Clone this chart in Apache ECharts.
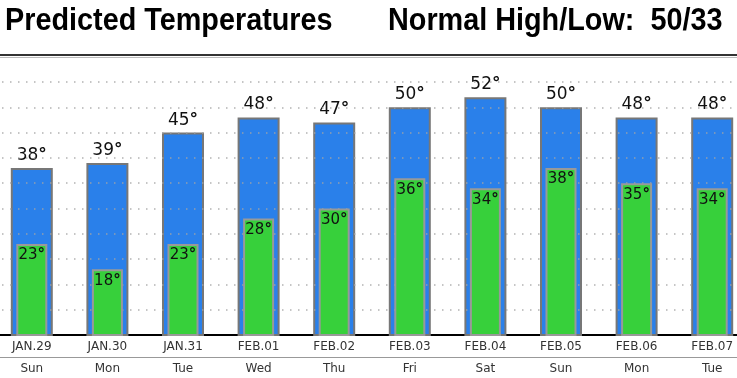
<!DOCTYPE html>
<html>
<head>
<meta charset="utf-8">
<script src="https://cdn.jsdelivr.net/npm/echarts@6/dist/echarts.min.js"></script>
<style>
  html, body { margin: 0; padding: 0; background: #fff; overflow: hidden; }
  body { width: 737px; height: 378px; position: relative; }
  /* the plot area in the original runs past both edges of the picture */
  #chart { position: absolute; left: -6px; top: 0; width: 756px; height: 378px; }
</style>
</head>
<body>
<div id="chart"></div>
<script>
const dates = ["JAN.29", "JAN.30", "JAN.31", "FEB.01", "FEB.02", "FEB.03", "FEB.04", "FEB.05", "FEB.06", "FEB.07"];
const days = ["Sun", "Mon", "Tue", "Wed", "Thu", "Fri", "Sat", "Sun", "Mon", "Tue"];
const highs = [38, 39, 45, 48, 47, 50, 52, 50, 48, 48];
const lows = [23, 18, 23, 28, 30, 36, 34, 38, 35, 34];
const normalHigh = 50;
const normalLow = 33;

const chart = echarts.init(document.getElementById("chart"));
const font = "DejaVu Sans";
const shift = 6; // chart div starts 6px left of the page

const headerStyle = { font: 'bold 32px "Liberation Sans"', fill: "#000", verticalAlign: "middle" };

chart.setOption({
  animation: false,
  backgroundColor: "#fff",
  graphic: [
    {
      type: "text",
      x: 5 + shift,
      y: 21.5,
      scaleX: 0.9,
      style: Object.assign({ text: "Predicted Temperatures" }, headerStyle),
    },
    {
      type: "text",
      x: 388 + shift,
      y: 21.5,
      scaleX: 0.9,
      style: Object.assign({ text: "Normal High/Low:  " + normalHigh + "/" + normalLow }, headerStyle),
    },
    { type: "line", shape: { x1: 0, y1: 55, x2: 756, y2: 55 }, style: { stroke: "#333", lineWidth: 2 } },
    { type: "line", shape: { x1: 0, y1: 57.5, x2: 756, y2: 57.5 }, style: { stroke: "#bbb", lineWidth: 1 } },
  ],
  grid: { left: 0, right: 0, top: 82, bottom: 43 },
  xAxis: [
    {
      type: "category",
      data: dates,
      axisLine: { lineStyle: { color: "#000", width: 2 } },
      axisTick: { alignWithLabel: true, length: 4, lineStyle: { color: "#333" } },
      axisLabel: { fontFamily: font, fontSize: 12, color: "#333", margin: 6 },
    },
    {
      type: "category",
      data: days,
      position: "bottom",
      offset: 22,
      axisLine: { lineStyle: { color: "#999", width: 1 } },
      axisTick: { alignWithLabel: true, length: 5, lineStyle: { color: "#333" } },
      axisLabel: { fontFamily: font, fontSize: 12, color: "#333", margin: 6 },
    },
  ],
  yAxis: {
    type: "value",
    min: 5,
    max: 55,
    interval: 5,
    z: 3,
    axisLine: { show: false },
    axisTick: { show: false },
    axisLabel: { show: false },
    splitLine: {
      showMinLine: false,
      lineStyle: { color: "rgba(165,165,165,0.85)", width: 1.5, type: [1.5, 6.5] },
    },
  },
  series: [
    {
      name: "High",
      type: "bar",
      xAxisIndex: 0,
      data: highs,
      barWidth: 42,
      z: 2,
      itemStyle: { color: "#2a80ea", borderColor: "#777", borderWidth: 2 },
      label: {
        show: true,
        position: "top",
        distance: 4,
        formatter: "{v|{c}}{d|°}",
        rich: {
          v: { fontFamily: font, fontSize: 17, color: "#111" },
          d: { fontFamily: font, fontSize: 17, fontWeight: "bold", color: "#111" },
        },
      },
    },
    {
      name: "Low",
      type: "bar",
      xAxisIndex: 1,
      data: lows,
      barWidth: 31,
      z: 4,
      itemStyle: { color: "#37d03b", borderColor: "#999", borderWidth: 2 },
      label: {
        show: true,
        position: "insideTop",
        distance: 4,
        formatter: "{v|{c}}{d|°}",
        rich: {
          v: { fontFamily: font, fontSize: 15, color: "#111" },
          d: { fontFamily: font, fontSize: 15, fontWeight: "bold", color: "#111" },
        },
      },
    },
  ],
});
</script>
</body>
</html>
